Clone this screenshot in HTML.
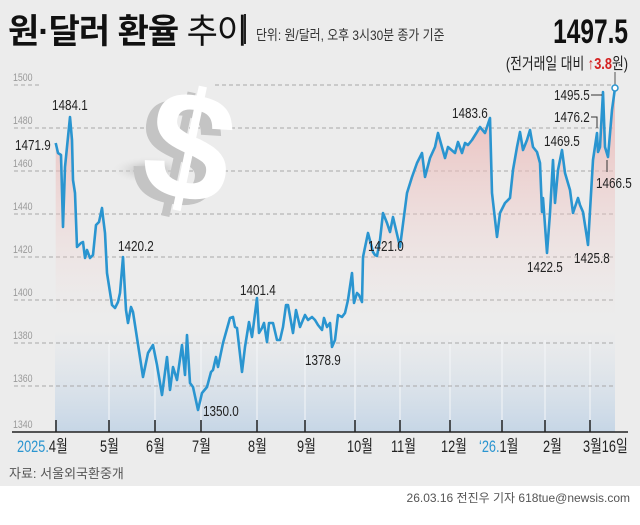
<!DOCTYPE html>
<html><head><meta charset="utf-8"><style>
html,body{margin:0;padding:0;}
body{width:640px;height:520px;background:#fff;overflow:hidden;font-family:"Liberation Sans","Noto Sans CJK KR",sans-serif;}
</style></head><body>
<svg width="640" height="520" viewBox="0 0 640 520" xmlns="http://www.w3.org/2000/svg" font-family="'Liberation Sans','Noto Sans CJK KR',sans-serif">
<defs>
<linearGradient id="pk" gradientUnits="userSpaceOnUse" x1="0" y1="90" x2="0" y2="320">
<stop offset="0" stop-color="#eab0ae" stop-opacity="0.85"/>
<stop offset="1" stop-color="#f2d8d6" stop-opacity="0"/>
</linearGradient>
<linearGradient id="bl" gradientUnits="userSpaceOnUse" x1="0" y1="330" x2="0" y2="432">
<stop offset="0" stop-color="#d6e0ea" stop-opacity="0"/>
<stop offset="1" stop-color="#c6d6e6" stop-opacity="1"/>
</linearGradient>
<radialGradient id="sh" cx="0.5" cy="0.5" r="0.5">
<stop offset="0" stop-color="#a8a8a8"/><stop offset="1" stop-color="#ececec" stop-opacity="0"/>
</radialGradient>
</defs>
<rect x="0" y="0" width="640" height="486" fill="#ececec"/>
<rect x="55" y="330" width="560" height="102" fill="url(#bl)"/>
<g stroke="#f4f6f8" stroke-width="1">
<line x1="109" y1="340" x2="109" y2="432"/><line x1="155" y1="340" x2="155" y2="432"/><line x1="201" y1="340" x2="201" y2="432"/><line x1="257" y1="340" x2="257" y2="432"/><line x1="305" y1="340" x2="305" y2="432"/><line x1="355" y1="340" x2="355" y2="432"/><line x1="400" y1="340" x2="400" y2="432"/><line x1="450" y1="340" x2="450" y2="432"/><line x1="502" y1="340" x2="502" y2="432"/><line x1="545" y1="340" x2="545" y2="432"/><line x1="590" y1="340" x2="590" y2="432"/>
</g>
<g stroke="#a8a8a8" stroke-width="1" stroke-dasharray="4,3">
<line x1="14" y1="85" x2="40" y2="85"/>
<line x1="215" y1="85" x2="615" y2="85"/>
<line x1="14" y1="128" x2="615" y2="128"/>
<line x1="14" y1="171" x2="615" y2="171"/>
<line x1="14" y1="214" x2="615" y2="214"/>
<line x1="14" y1="257" x2="615" y2="257"/>
<line x1="14" y1="300" x2="615" y2="300"/>
<line x1="14" y1="343" x2="615" y2="343"/>
<line x1="14" y1="386" x2="615" y2="386"/>
</g>
<g font-size="11" fill="#9a9a9a">
<text x="13" y="81" transform="translate(13 0) scale(0.8 1) translate(-13 0)">1500</text>
<text x="13" y="124" transform="translate(13 0) scale(0.8 1) translate(-13 0)">1480</text>
<text x="13" y="167" transform="translate(13 0) scale(0.8 1) translate(-13 0)">1460</text>
<text x="13" y="210" transform="translate(13 0) scale(0.8 1) translate(-13 0)">1440</text>
<text x="13" y="253" transform="translate(13 0) scale(0.8 1) translate(-13 0)">1420</text>
<text x="13" y="296" transform="translate(13 0) scale(0.8 1) translate(-13 0)">1400</text>
<text x="13" y="339" transform="translate(13 0) scale(0.8 1) translate(-13 0)">1380</text>
<text x="13" y="382" transform="translate(13 0) scale(0.8 1) translate(-13 0)">1360</text>
<text x="13" y="428" transform="translate(13 0) scale(0.8 1) translate(-13 0)">1340</text>
</g>
<ellipse cx="150" cy="170" rx="40" ry="14" fill="url(#sh)"/>
<text x="138" y="206" font-size="155" font-weight="bold" fill="#c4c4c4" transform="rotate(12 180 140)">$</text>
<text x="148" y="200" font-size="155" font-weight="bold" fill="#ffffff" transform="rotate(12 190 140)">$</text>
<polygon fill="url(#pk)" points="55.7,143 58,153 61,155 63,227 65,167 67,147 70,117 72,140 73,180 75,193 77,247 81,243 83,242 85,258 87,250 90,258 93,255 96,225 99,222 102,208 103,217 105,233 107,273 112,305 115,308 118,302 120,293 123,257 126,310 128,323 131,307 133,312 143,377 148,353 153,345 157,365 162,395 167,357 170,390 173,367 177,380 182,345 185,375 187,335 190,383 193,387 198,410 202,393 207,387 211,372 213,370 216,357 218,367 223,343 230,318 233,317 235,327 237,328 242,372 245,347 249,322 252,337 257,298 259,333 262,328 264,323 267,342 269,323 273,323 277,340 280,340 283,327 286,305 288,305 293,333 296,310 300,327 305,315 308,320 312,317 315,320 318,325 322,330 324,318 327,327 330,323 332,347 335,340 338,315 342,317 345,313 348,300 352,273 354,303 357,293 359,295 362,302 363,257 368,233 373,252 375,255 377,256 380,240 383,213 387,223 390,232 393,217 400,247 407,193 412,177 417,163 422,153 425,177 430,158 435,147 438,133 445,158 448,147 455,153 458,142 462,153 465,143 468,145 472,140 477,132 480,127 485,133 490,118 492,193 497,237 500,213 505,203 510,198 513,170 517,147 520,132 523,150 527,140 530,130 533,147 537,152 540,163 542,212 543,198 547,253 550,213 553,160 555,203 558,170 562,150 565,173 570,190 573,213 578,198 580,205 583,212 587,238 588,245 593,160 597,133 598,152 600,147 603,92 605,147 608,157 612,110 615,88 615,432 55.7,432"/>
<polyline fill="none" stroke="#2a95d0" stroke-width="2.6" stroke-linejoin="round" points="55.7,143 58,153 61,155 63,227 65,167 67,147 70,117 72,140 73,180 75,193 77,247 81,243 83,242 85,258 87,250 90,258 93,255 96,225 99,222 102,208 103,217 105,233 107,273 112,305 115,308 118,302 120,293 123,257 126,310 128,323 131,307 133,312 143,377 148,353 153,345 157,365 162,395 167,357 170,390 173,367 177,380 182,345 185,375 187,335 190,383 193,387 198,410 202,393 207,387 211,372 213,370 216,357 218,367 223,343 230,318 233,317 235,327 237,328 242,372 245,347 249,322 252,337 257,298 259,333 262,328 264,323 267,342 269,323 273,323 277,340 280,340 283,327 286,305 288,305 293,333 296,310 300,327 305,315 308,320 312,317 315,320 318,325 322,330 324,318 327,327 330,323 332,347 335,340 338,315 342,317 345,313 348,300 352,273 354,303 357,293 359,295 362,302 363,257 368,233 373,252 375,255 377,256 380,240 383,213 387,223 390,232 393,217 400,247 407,193 412,177 417,163 422,153 425,177 430,158 435,147 438,133 445,158 448,147 455,153 458,142 462,153 465,143 468,145 472,140 477,132 480,127 485,133 490,118 492,193 497,237 500,213 505,203 510,198 513,170 517,147 520,132 523,150 527,140 530,130 533,147 537,152 540,163 542,212 543,198 547,253 550,213 553,160 555,203 558,170 562,150 565,173 570,190 573,213 578,198 580,205 583,212 587,238 588,245 593,160 597,133 598,152 600,147 603,92 605,147 608,157 612,110 615,88"/>
<line x1="615" y1="72" x2="615" y2="86" stroke="#555" stroke-width="1"/>
<circle cx="615" cy="88" r="3" fill="#fff" stroke="#2a95d0" stroke-width="1.5"/>
<g stroke="#333" stroke-width="1" fill="none">
<polyline points="591,95 602,95"/>
<polyline points="591,117 597,117 597,128"/>
<polyline points="607,160 607,172"/>
</g>
<g font-size="15" fill="#222">
<text x="15" y="150" transform="translate(15 0) scale(0.78 1) translate(-15 0)">1471.9</text>
<text x="52" y="110" transform="translate(52 0) scale(0.78 1) translate(-52 0)">1484.1</text>
<text x="118" y="251" transform="translate(118 0) scale(0.78 1) translate(-118 0)">1420.2</text>
<text x="240" y="295" transform="translate(240 0) scale(0.78 1) translate(-240 0)">1401.4</text>
<text x="203" y="416" transform="translate(203 0) scale(0.78 1) translate(-203 0)">1350.0</text>
<text x="305" y="365" transform="translate(305 0) scale(0.78 1) translate(-305 0)">1378.9</text>
<text x="368" y="251" transform="translate(368 0) scale(0.78 1) translate(-368 0)">1421.0</text>
<text x="452" y="118" transform="translate(452 0) scale(0.78 1) translate(-452 0)">1483.6</text>
<text x="544" y="146" transform="translate(544 0) scale(0.78 1) translate(-544 0)">1469.5</text>
<text x="527" y="272" transform="translate(527 0) scale(0.78 1) translate(-527 0)">1422.5</text>
<text x="574" y="263" transform="translate(574 0) scale(0.78 1) translate(-574 0)">1425.8</text>
<text x="554" y="100" transform="translate(554 0) scale(0.78 1) translate(-554 0)">1495.5</text>
<text x="554" y="122" transform="translate(554 0) scale(0.78 1) translate(-554 0)">1476.2</text>
<text x="596" y="188" transform="translate(596 0) scale(0.78 1) translate(-596 0)">1466.5</text>
</g>
<line x1="12" y1="432" x2="628" y2="432" stroke="#222" stroke-width="1.5"/>
<g stroke="#222" stroke-width="1.5">
<line x1="56" y1="420" x2="56" y2="432"/><line x1="109" y1="420" x2="109" y2="432"/><line x1="155" y1="420" x2="155" y2="432"/><line x1="201" y1="420" x2="201" y2="432"/><line x1="257" y1="420" x2="257" y2="432"/><line x1="305" y1="420" x2="305" y2="432"/><line x1="355" y1="420" x2="355" y2="432"/><line x1="400" y1="420" x2="400" y2="432"/><line x1="450" y1="420" x2="450" y2="432"/><line x1="502" y1="420" x2="502" y2="432"/><line x1="545" y1="420" x2="545" y2="432"/><line x1="590" y1="420" x2="590" y2="432"/>
</g>
<g font-size="17" fill="#222">
<text x="17" y="452" transform="translate(17 0) scale(0.75 1) translate(-17 0)"><tspan fill="#2a95d0">2025.</tspan>4월</text>
<text x="100" y="452" transform="translate(100 0) scale(0.75 1) translate(-100 0)">5월</text>
<text x="146" y="452" transform="translate(146 0) scale(0.75 1) translate(-146 0)">6월</text>
<text x="192" y="452" transform="translate(192 0) scale(0.75 1) translate(-192 0)">7월</text>
<text x="248" y="452" transform="translate(248 0) scale(0.75 1) translate(-248 0)">8월</text>
<text x="297" y="452" transform="translate(297 0) scale(0.75 1) translate(-297 0)">9월</text>
<text x="347" y="452" transform="translate(347 0) scale(0.75 1) translate(-347 0)">10월</text>
<text x="391" y="452" transform="translate(391 0) scale(0.75 1) translate(-391 0)">11월</text>
<text x="441" y="452" transform="translate(441 0) scale(0.75 1) translate(-441 0)">12월</text>
<text x="479" y="452" transform="translate(479 0) scale(0.75 1) translate(-479 0)"><tspan fill="#2a95d0">‘26.</tspan>1월</text>
<text x="543" y="452" transform="translate(543 0) scale(0.75 1) translate(-543 0)">2월</text>
<text x="583" y="452" transform="translate(583 0) scale(0.75 1) translate(-583 0)">3월16일</text>
</g>
<text x="9" y="478" font-size="13" fill="#555">자료: 서울외국환중개</text>
<text x="630" y="502" font-size="12" fill="#555" text-anchor="end">26.03.16 전진우 기자 618tue@newsis.com</text>
<text x="8" y="43" font-size="34" font-weight="bold" fill="#111" letter-spacing="-1">원·달러 환율 <tspan font-weight="normal">추이</tspan></text>
<rect x="244" y="14" width="2" height="30" fill="#222"/>
<text x="256" y="40" font-size="14" fill="#333" transform="translate(256 0) scale(0.85 1) translate(-256 0)">단위: 원/달러, 오후 3시30분 종가 기준</text>
<text x="628" y="43" font-size="34" font-weight="bold" fill="#111" text-anchor="end" transform="translate(628 0) scale(0.72 1) translate(-628 0)">1497.5</text>
<text x="628" y="69" font-size="16" fill="#222" text-anchor="end" transform="translate(628 0) scale(0.8 1) translate(-628 0)">(전거래일 대비 <tspan fill="#d42020" font-weight="bold">↑3.8</tspan>원)</text>
</svg>
</body></html>
